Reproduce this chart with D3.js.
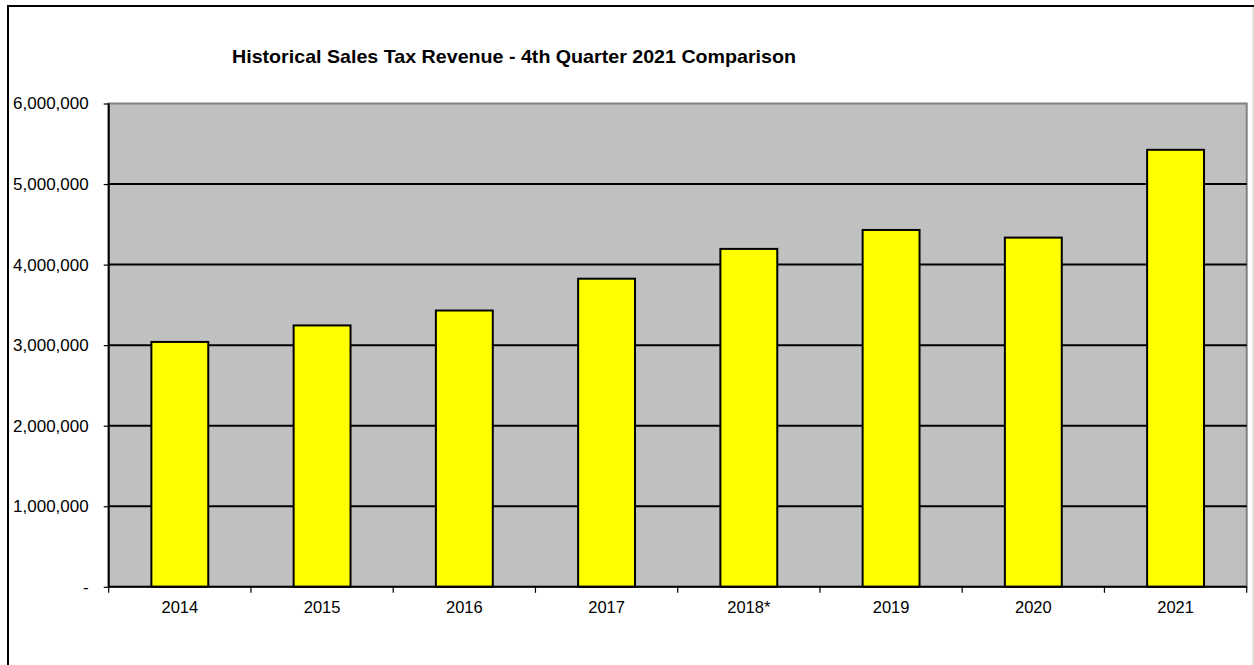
<!DOCTYPE html>
<html><head><meta charset="utf-8">
<script src="https://cdn.jsdelivr.net/npm/d3@7"></script>
<style>html,body{margin:0;padding:0;background:#fff;overflow:hidden}</style>
</head><body>
<svg id="chart" width="1254" height="665"></svg>
<script>
const title = "Historical Sales Tax Revenue - 4th Quarter 2021 Comparison";
const categories = ["2014","2015","2016","2017","2018*","2019","2020","2021"];
const revenue = [3040000, 3245000, 3430000, 3825000, 4195000, 4430000, 4335000, 5425000];
const yTicks = [0, 1000000, 2000000, 3000000, 4000000, 5000000, 6000000];

const svg = d3.select("#chart");
const font = "'Liberation Sans', Arial, sans-serif";
const plot = {left: 108.7, right: 1246.7, top: 103.5, bottom: 586.8};

// outer frame
svg.append("rect").attr("x", 8).attr("y", 6).attr("width", 1300).attr("height", 700)
  .attr("fill", "#fff").attr("stroke", "#000").attr("stroke-width", 2);
svg.append("line").attr("x1", 1253).attr("x2", 1253).attr("y1", 7).attr("y2", 665)
  .attr("stroke", "#d8d8d8").attr("stroke-width", 1.5);

const x = d3.scaleBand().domain(categories).range([plot.left, plot.right])
  .paddingInner(0.6).paddingOuter(0.3);
const y = d3.scaleLinear().domain([0, 6000000]).range([plot.bottom, plot.top]);

// plot background
svg.append("rect").attr("x", plot.left).attr("y", plot.top)
  .attr("width", plot.right - plot.left).attr("height", plot.bottom - plot.top)
  .attr("fill", "#c0c0c0").attr("stroke", "#808080").attr("stroke-width", 2);

// gridlines
svg.append("g").selectAll("line").data(yTicks.filter(d => d > 0 && d < 6000000)).join("line")
  .attr("x1", plot.left).attr("x2", plot.right)
  .attr("y1", d => y(d)).attr("y2", d => y(d))
  .attr("stroke", "#000").attr("stroke-width", 2);

// bars
svg.append("g").selectAll("rect").data(categories).join("rect")
  .attr("x", d => x(d)).attr("width", x.bandwidth())
  .attr("y", (d, i) => y(revenue[i])).attr("height", (d, i) => y(0) - y(revenue[i]))
  .attr("fill", "#ffff00").attr("stroke", "#000").attr("stroke-width", 2);

// y axis
const fmt = d => d === 0 ? "-" : d3.format(",")(d);
const yAxis = d3.axisLeft(y).tickValues(yTicks).tickFormat(fmt).tickSize(5).tickPadding(15);
const gy = svg.append("g").attr("transform", `translate(${plot.left},0)`).call(yAxis);
gy.select(".domain").attr("stroke", "#000").attr("stroke-width", 2).attr("d", `M0,${plot.top}V${plot.bottom}`);
gy.selectAll(".tick line").attr("stroke", "#000").attr("stroke-width", 1.2);
gy.selectAll(".tick text").attr("font-family", font).attr("font-size", 17).attr("fill", "#000");

// x axis
const xAxis = d3.axisBottom(x).tickSize(0).tickPadding(14);
const gx = svg.append("g").attr("transform", `translate(0,${plot.bottom})`).call(xAxis);
gx.select(".domain").attr("stroke", "#000").attr("stroke-width", 2).attr("d", `M${plot.left},0H${plot.right}`);
gx.selectAll(".tick text").attr("font-family", font).attr("font-size", 16.5).attr("fill", "#000");
// category boundary tick marks
const bounds = d3.range(categories.length + 1).map(i => plot.left + i * (plot.right - plot.left) / categories.length);
gx.append("g").selectAll("line").data(bounds).join("line")
  .attr("x1", d => d).attr("x2", d => d).attr("y1", 0).attr("y2", 6)
  .attr("stroke", "#000").attr("stroke-width", 1.2);

// title
svg.append("text").attr("x", 232).attr("y", 63)
  .attr("font-family", font).attr("font-size", 18.5).attr("font-weight", "bold")
  .attr("textLength", 564).attr("lengthAdjust", "spacingAndGlyphs")
  .text(title);
</script>
</body></html>
